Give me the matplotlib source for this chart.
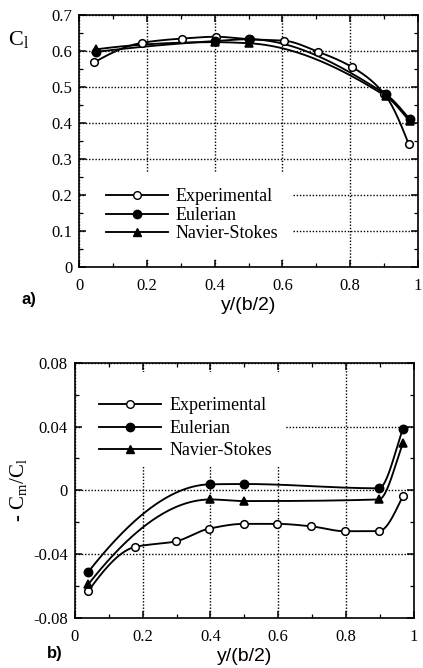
import numpy as np
import matplotlib
matplotlib.use("Agg")
import matplotlib.pyplot as plt
from matplotlib.patches import Rectangle
from matplotlib.ticker import MultipleLocator, FixedLocator
from matplotlib.lines import Line2D

# ---- data ----
# a) spanwise lift coefficient
cl_exp_x = [0.045, 0.185, 0.304, 0.404, 0.504, 0.605, 0.706, 0.805, 0.90, 0.973]
cl_exp_y = [0.569, 0.623, 0.635, 0.640, 0.633, 0.629, 0.598, 0.556, 0.482, 0.341]
cl_eul_x = [0.05, 0.40, 0.50, 0.905, 0.976]
cl_eul_y = [0.598, 0.628, 0.633, 0.480, 0.411]
cl_ns_x = [0.05, 0.40, 0.50, 0.905, 0.976]
cl_ns_y = [0.605, 0.625, 0.622, 0.475, 0.405]

# b) moment / lift ratio
cm_exp_x = [0.04, 0.177, 0.297, 0.396, 0.499, 0.597, 0.696, 0.796, 0.897, 0.968]
cm_exp_y = [-0.063, -0.0355, -0.032, -0.024, -0.021, -0.021, -0.0225, -0.0256, -0.0256, -0.0036]
cm_eul_x = [0.04, 0.40, 0.50, 0.897, 0.968]
cm_eul_y = [-0.051, 0.0038, 0.004, 0.0013, 0.0385]
cm_ns_x = [0.04, 0.40, 0.50, 0.897, 0.968]
cm_ns_y = [-0.0588, -0.0057, -0.0067, -0.0057, 0.0294]

series_names = ["Experimental", "Eulerian", "Navier-Stokes"]
cl_ticks = [0, 0.1, 0.2, 0.3, 0.4, 0.5, 0.6, 0.7]
cl_ticklabels = ["0", "0.1", "0.2", "0.3", "0.4", "0.5", "0.6", "0.7"]
cm_ticks = [-0.08, -0.04, 0, 0.04, 0.08]
cm_ticklabels = ["-0.08", "-0.04", "0", "0.04", "0.08"]
x_ticks = [0, 0.2, 0.4, 0.6, 0.8, 1.0]
x_ticklabels = ["0", "0.2", "0.4", "0.6", "0.8", "1"]


def pchip(x, y, xs):
    # monotone cubic curve through the points, only used to draw the smooth line
    x = np.asarray(x, float)
    y = np.asarray(y, float)
    h = np.diff(x)
    dl = np.diff(y) / h
    n = len(x)
    d = np.zeros(n)
    for k in range(1, n - 1):
        if dl[k - 1] * dl[k] > 0:
            w1 = 2 * h[k] + h[k - 1]
            w2 = h[k] + 2 * h[k - 1]
            d[k] = (w1 + w2) / (w1 / dl[k - 1] + w2 / dl[k])

    def end(h0, h1, d0, d1):
        s = ((2 * h0 + h1) * d0 - h0 * d1) / (h0 + h1)
        if np.sign(s) != np.sign(d0):
            s = 0.0
        elif np.sign(d0) != np.sign(d1) and abs(s) > abs(3 * d0):
            s = 3 * d0
        return s

    d[0] = end(h[0], h[1], dl[0], dl[1])
    d[-1] = end(h[-1], h[-2], dl[-1], dl[-2])
    idx = np.clip(np.searchsorted(x, xs) - 1, 0, n - 2)
    t = (xs - x[idx]) / h[idx]
    h00 = 2 * t**3 - 3 * t**2 + 1
    h10 = t**3 - 2 * t**2 + t
    h01 = -2 * t**3 + 3 * t**2
    h11 = t**3 - t**2
    return h00 * y[idx] + h10 * h[idx] * d[idx] + h01 * y[idx + 1] + h11 * h[idx] * d[idx + 1]


LW = 1.35


def draw(ax, x, y, marker, face, ms):
    xs = np.linspace(x[0], x[-1], 300)
    ax.plot(xs, pchip(x, y, xs), color="black", lw=LW, zorder=3)
    ax.plot(x, y, ls="none", marker=marker, mfc=face, mec="black",
            ms=ms, mew=1.1, zorder=4)


serif = "Liberation Serif"
sans = "Liberation Sans"

fig = plt.figure(figsize=(4.23, 6.68), dpi=100)
ax1 = fig.add_axes([0.187, 0.6003, 0.801, 0.377])
ax2 = fig.add_axes([0.177, 0.0749, 0.801, 0.382])

for ax in (ax1, ax2):
    ax.set_xlim(0, 1)
    ax.xaxis.set_major_locator(FixedLocator(x_ticks))
    ax.set_xticklabels(x_ticklabels, fontfamily=serif, fontsize=12)
    ax.xaxis.set_minor_locator(MultipleLocator(0.1))
    ax.tick_params(which="both", direction="in", top=True, right=True)
    ax.tick_params(which="major", length=5, width=1.1)
    ax.tick_params(which="minor", length=3, width=0.9)
    ax.tick_params(axis="x", which="major", pad=8)
    ax.tick_params(axis="y", which="major", pad=5)
    ax.grid(True, which="major", color="black", ls=(0, (1, 1.3)), lw=1.0)
    ax.set_axisbelow(True)
    for sp in ax.spines.values():
        sp.set_linewidth(1.2)
    ax.set_xlabel("y/(b/2)", fontfamily=sans, fontsize=14, labelpad=2)

# ---- a) ----
ax1.set_ylim(0, 0.7)
ax1.yaxis.set_major_locator(FixedLocator(cl_ticks))
ax1.set_yticklabels(cl_ticklabels, fontfamily=serif, fontsize=12)
ax1.yaxis.set_minor_locator(MultipleLocator(0.05))
ax1.add_patch(Rectangle((0.02, 0.025), 0.61, 0.24, facecolor="white",
                        edgecolor="none", zorder=1))
draw(ax1, cl_exp_x, cl_exp_y, "o", "white", 5.5)
draw(ax1, cl_eul_x, cl_eul_y, "o", "black", 6)
draw(ax1, cl_ns_x, cl_ns_y, "^", "black", 6)
ax1.text(-0.21, 0.63, r"C$_\mathregular{l}$", transform=ax1.transData,
         fontfamily=serif, fontsize=16, ha="left", va="center")
fig.text(0.052, 0.545, "a)", fontfamily=sans, fontweight="bold", fontsize=12)

# ---- b) ----
ax2.set_ylim(-0.08, 0.08)
ax2.yaxis.set_major_locator(FixedLocator(cm_ticks))
ax2.set_yticklabels(cm_ticklabels, fontfamily=serif, fontsize=12)
ax2.yaxis.set_minor_locator(MultipleLocator(0.02))
ax2.add_patch(Rectangle((0.02, 0.015), 0.60, 0.059, facecolor="white",
                        edgecolor="none", zorder=1))
draw(ax2, cm_exp_x, cm_exp_y, "o", "white", 5.5)
draw(ax2, cm_eul_x, cm_eul_y, "o", "black", 6)
draw(ax2, cm_ns_x, cm_ns_y, "^", "black", 6)
ax2.set_ylabel(r"- C$_\mathregular{m}$/C$_\mathregular{l}$", fontfamily=serif,
               fontsize=15, labelpad=2)
fig.text(0.11, 0.015, "b)", fontfamily=sans, fontweight="bold", fontsize=12)

# legends
handles = [
    Line2D([], [], color="black", lw=LW, marker="o", mfc="white", mec="black", ms=5.5),
    Line2D([], [], color="black", lw=LW, marker="o", mfc="black", mec="black", ms=6),
    Line2D([], [], color="black", lw=LW, marker="^", mfc="black", mec="black", ms=6),
]
for ax, anchor, spacing in ((ax1, (0.078, 0.098), 0.08), (ax2, (0.071, 0.622), 0.3)):
    ax.legend(handles, series_names, loc="lower left", bbox_to_anchor=anchor,
              frameon=False, prop={"family": serif, "size": 13},
              handlelength=3.45, handletextpad=0.45, labelspacing=spacing,
              borderaxespad=0, borderpad=0)

fig.savefig("out.png", dpi=100)
